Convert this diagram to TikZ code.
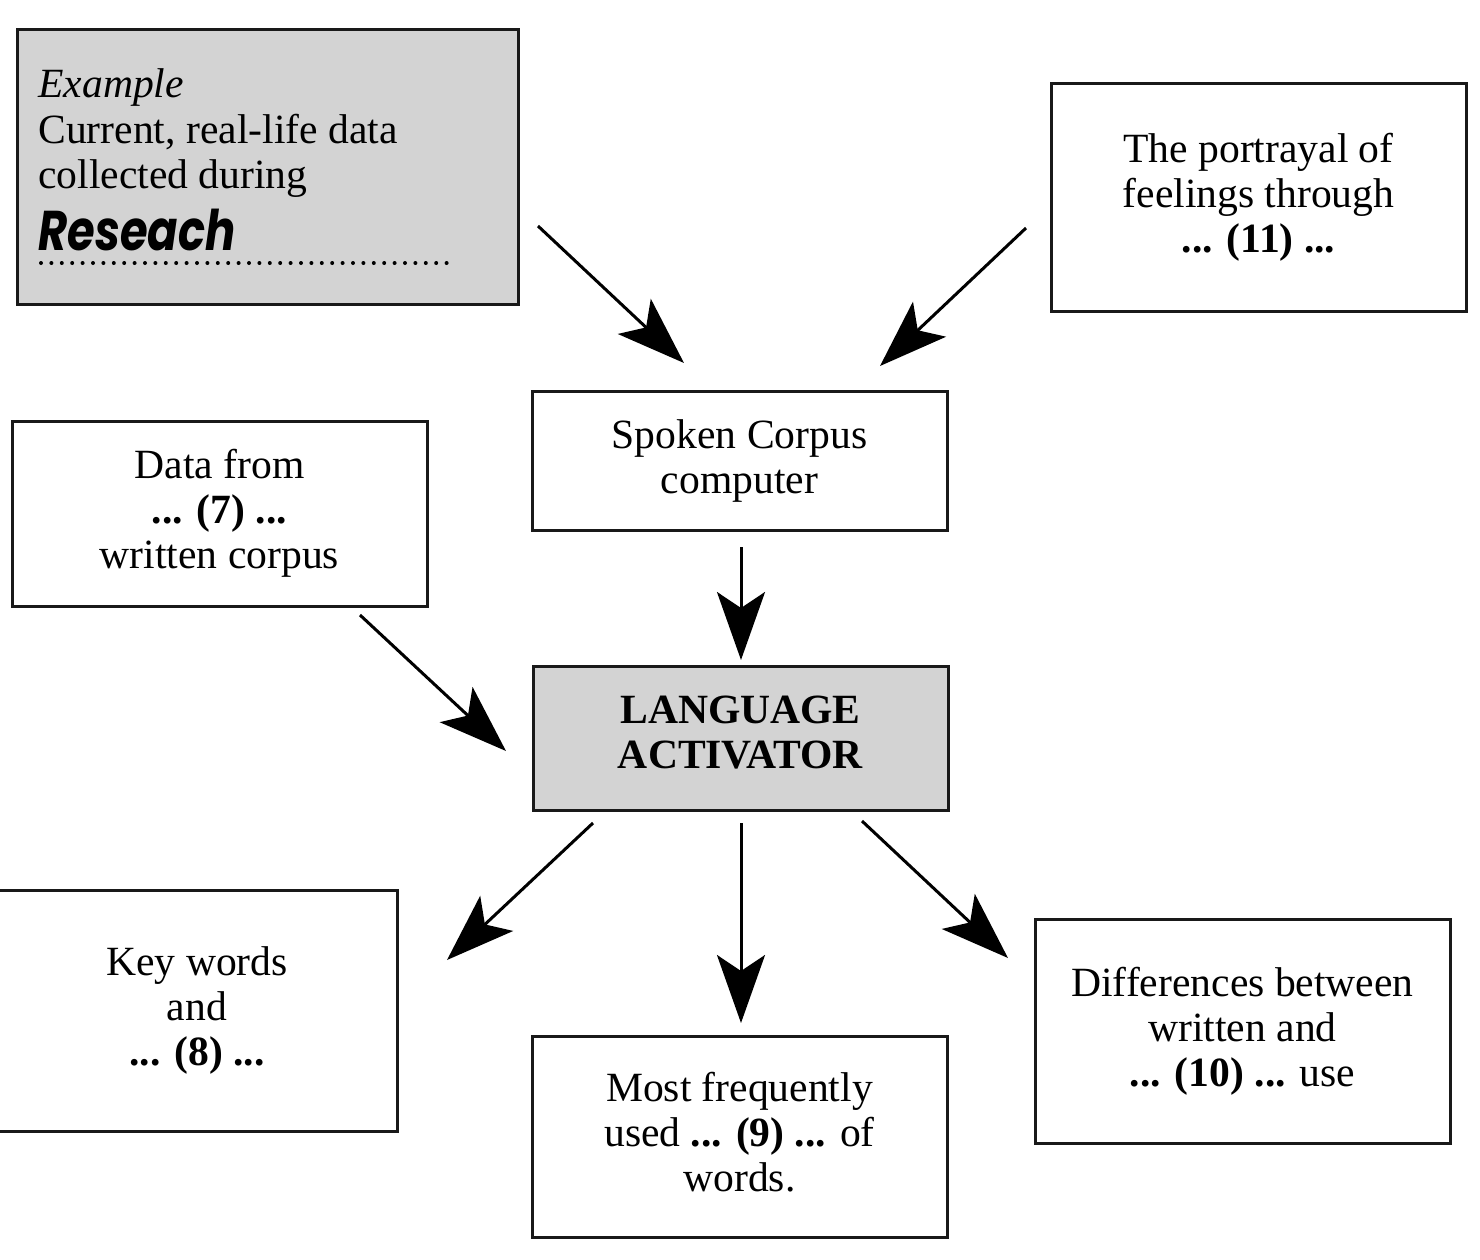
\documentclass[tikz,border=0pt]{standalone}
\usepackage{fontspec}
\setmainfont{Liberation Serif}
\newfontfamily\brushfont{Poppins}
\usetikzlibrary{arrows.meta}
\definecolor{boxgray}{HTML}{D3D3D3}
\begin{document}
\begin{tikzpicture}[x=0.5pt,y=-0.5pt,
  txt/.style={font=\fontsize{20.8}{22.5}\selectfont},
  box/.style={draw=black!90, line width=1.5pt, align=center, inner sep=0pt, txt},
  graybox/.style={box, fill=boxgray},
  arr/.style={line width=1.5pt, -{Stealth[length=34pt,width=24pt,inset=8pt]}}]
\useasboundingbox (0,0) rectangle (1480,1260);

% boxes
\node[graybox, minimum width=250.5pt, minimum height=137.5pt] (ex) at (267.5,166.5) {};
\node[box, minimum width=207.5pt, minimum height=114pt] (port) at (1258.5,197) {The portrayal of\\feelings through\\\textbf{... (11) ...}};
\node[box, minimum width=207.5pt, minimum height=69.5pt] (spoken) at (739.5,460.5) {Spoken Corpus\\computer};
\node[box, minimum width=207.5pt, minimum height=92.5pt] (data) at (219.5,513.5) {Data from\\\textbf{... (7) ...}\\written corpus};
\node[graybox, minimum width=207.5pt, minimum height=72pt] (lang) at (740.5,738) {};
\node[txt, align=center, inner sep=0pt, font=\bfseries\fontsize{20.8}{22.5}\selectfont] (langt) at ([yshift=2.5pt]lang.center) {LANGUAGE\\ACTIVATOR};
\node[box, minimum width=200pt, minimum height=120.5pt] (key) at (197,1010.5) {Key words\\and\\\textbf{... (8) ...}};
\node[box, minimum width=207.5pt, minimum height=100.5pt] (most) at (739.5,1136.5) {};
\node[txt, align=center, inner sep=0pt] (mostt) at ([yshift=2pt]most.center) {Most frequently\\used \textbf{... (9) ...} of\\words.};
\node[box, minimum width=207.5pt, minimum height=112pt] (diff) at (1242.5,1031) {Differences between\\written and\\\textbf{... (10) ...} use};

% example box text
\node[txt, anchor=base west, inner sep=0pt] (ex1) at (38,97) {\textit{Example}};
\node[txt, anchor=base west, inner sep=0pt] (ex2) at (38,143) {Current, real-life data};
\node[txt, anchor=base west, inner sep=0pt] (ex3) at (38,188) {collected during};
\node[anchor=base west, inner sep=0pt, font=\brushfont\bfseries\itshape\fontsize{28}{28}\selectfont] (res) at (38,250) {\scalebox{0.8}[1]{Reseach}};
\draw[line width=2pt, line cap=round, dash pattern=on 0pt off 5.2pt] (41,263) -- (450,263);

% arrow end points
\coordinate (a1s) at (538,226);  \coordinate (a1e) at (684,363);
\coordinate (a2s) at (1026,228); \coordinate (a2e) at (880,366);
\coordinate (a3s) at (741,547);  \coordinate (a3e) at (741,660);
\coordinate (a4s) at (360,615);  \coordinate (a4e) at (506,751);
\coordinate (a5s) at (593,823);  \coordinate (a5e) at (447,960);
\coordinate (a6s) at (741,823);  \coordinate (a6e) at (741,1023);
\coordinate (a7s) at (862,821);  \coordinate (a7e) at (1008,958);

\draw[arr] (a1s) -- (a1e);
\draw[arr] (a2s) -- (a2e);
\draw[arr] (a3s) -- (a3e);
\draw[arr] (a4s) -- (a4e);
\draw[arr] (a5s) -- (a5e);
\draw[arr] (a6s) -- (a6e);
\draw[arr] (a7s) -- (a7e);
\end{tikzpicture}
\end{document}
